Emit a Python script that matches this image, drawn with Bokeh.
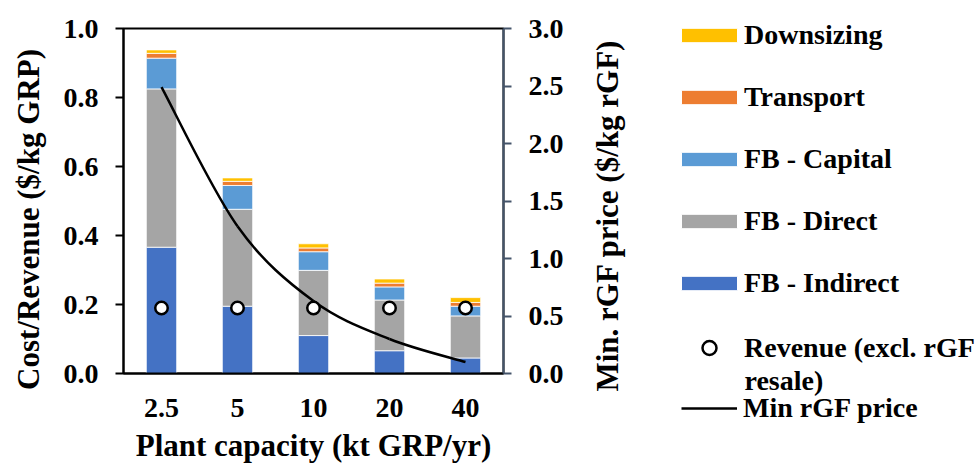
import numpy as np
from bokeh.plotting import figure
from bokeh.layouts import row, column
from bokeh.models import (FactorRange, Range1d, LinearAxis, FixedTicker,
                          NumeralTickFormatter, Legend, LegendItem, Label,
                          ColumnDataSource)
from bokeh.embed import file_html
from bokeh.resources import INLINE

# ---- data ----
categories = ["2.5", "5", "10", "20", "40"]
fb_indirect = [0.366, 0.195, 0.110, 0.066, 0.045]
fb_direct = [0.459, 0.281, 0.189, 0.147, 0.122]
fb_capital = [0.089, 0.069, 0.054, 0.038, 0.028]
transport = [0.014, 0.012, 0.011, 0.011, 0.011]
downsizing = [0.010, 0.010, 0.012, 0.012, 0.014]
revenue = [0.19, 0.19, 0.19, 0.19, 0.19]
min_rgf_price = [2.49, 1.28, 0.63, 0.30, 0.10]
left_ticks = [0.0, 0.2, 0.4, 0.6, 0.8, 1.0]
right_ticks = [0.0, 0.5, 1.0, 1.5, 2.0, 2.5, 3.0]
series_labels = ["FB - Indirect", "FB - Direct", "FB - Capital", "Transport", "Downsizing"]

FONT = "Liberation Serif"
TICK_SIZE = "28px"
TITLE_SIZE = "31px"
LEG_SIZE = "28px"
COLORS = ["#4472C4", "#A5A5A5", "#5B9BD5", "#ED7D31", "#FFC000"]
H = 465
LEFT_W = 50
MAIN_W = 520

src = ColumnDataSource(dict(cat=categories, indirect=fb_indirect, direct=fb_direct,
                            capital=fb_capital, transport=transport,
                            downsizing=downsizing, revenue=revenue,
                            price=min_rgf_price))
stack_names = ["indirect", "direct", "capital", "transport", "downsizing"]


def blank(width):
    f = figure(width=width, height=H, output_backend="svg", toolbar_location=None,
               x_range=FactorRange(*categories), y_range=Range1d(0, 1),
               x_axis_location=None, y_axis_location=None,
               min_border_left=0, min_border_right=0, min_border_top=0,
               min_border_bottom=0)
    f.outline_line_color = None
    f.xgrid.visible = False
    f.ygrid.visible = False
    return f


def title_label(x, y, text):
    return Label(x=x, y=y, x_units="screen", y_units="screen", text=text,
                 angle=np.pi / 2, text_align="center", text_baseline="middle",
                 text_font=FONT, text_font_style="bold",
                 text_font_size=TITLE_SIZE, text_color="black")


# ---- main chart ----
p = figure(x_range=FactorRange(*categories), y_range=Range1d(0, 1),
           width=MAIN_W, height=H, output_backend="svg", toolbar_location=None,
           min_border_left=73, min_border_right=67, min_border_top=28,
           min_border_bottom=89)
p.extra_y_ranges = {"price": Range1d(0, 3)}
p.xgrid.visible = False
p.ygrid.visible = False
p.outline_line_color = "black"
p.outline_line_width = 2

p.vbar_stack(stack_names, x="cat", width=0.4, fill_color=COLORS,
             line_color="white", line_width=0.8, source=src)

# smoothed min price line (bezier segments through the data points)
xs = np.arange(len(categories)) + 0.5
ys = np.array(min_rgf_price)
n = len(xs)
cx0, cy0, cx1, cy1 = [], [], [], []
for i in range(n - 1):
    a = max(i - 1, 0)
    b = min(i + 2, n - 1)
    cx0.append(xs[i] + (xs[i + 1] - xs[a]) / 6)
    cy0.append(ys[i] + (ys[i + 1] - ys[a]) / 6)
    cx1.append(xs[i + 1] - (xs[b] - xs[i]) / 6)
    cy1.append(ys[i + 1] - (ys[b] - ys[i]) / 6)
p.bezier(x0=xs[:-1], y0=ys[:-1], x1=xs[1:], y1=ys[1:],
         cx0=cx0, cy0=cy0, cx1=cx1, cy1=cy1,
         line_color="black", line_width=2.5, y_range_name="price")

p.scatter("cat", "revenue", source=src, size=12.5, fill_color="white",
          line_color="black", line_width=2.5)

yl = p.left[0]
yl.ticker = FixedTicker(ticks=left_ticks)
yl.formatter = NumeralTickFormatter(format="0.0")
yl.major_label_standoff = 17

yr = LinearAxis(y_range_name="price", ticker=FixedTicker(ticks=right_ticks),
                formatter=NumeralTickFormatter(format="0.0"))
yr.major_label_standoff = 17
p.add_layout(yr, "right")

for ax, col in ((yl, "black"), (yr, "#44546A")):
    ax.major_tick_out = 8
    ax.major_tick_in = 0
    ax.minor_tick_out = 0
    ax.minor_tick_in = 0
    ax.axis_line_width = 2
    ax.axis_line_color = col
    ax.major_tick_line_width = 2
    ax.major_tick_line_color = col

xa = p.below[0]
xa.axis_label = "Plant capacity (kt GRP/yr)"
xa.major_tick_in = 0
xa.major_tick_out = 0
xa.axis_line_width = 2
xa.axis_line_color = "black"
xa.major_label_standoff = 25
xa.axis_label_standoff = 8

for ax in (yl, yr, xa):
    ax.major_label_text_font = FONT
    ax.major_label_text_font_style = "bold"
    ax.major_label_text_font_size = TICK_SIZE
    ax.major_label_text_color = "black"
    ax.axis_label_text_font = FONT
    ax.axis_label_text_font_style = "bold"
    ax.axis_label_text_font_size = TITLE_SIZE
    ax.axis_label_text_color = "black"

# ---- left strip: left-axis title ----
ql = blank(LEFT_W)
ql.add_layout(title_label(28, 246, "Cost/Revenue ($/kg GRP)"))

# ---- right strip: right-axis title + legend ----
q = blank(979 - LEFT_W - MAIN_W)
q.add_layout(title_label(37, 250, "Min. rGF price ($/kg rGF)"))

# legend-only renderers (hidden), sharing the chart's data
proxies = [q.vbar(x="cat", top=name, source=src, width=0.4, fill_color=c,
                  line_color="white", visible=False)
           for name, c in zip(stack_names, COLORS)]
rev_proxy = q.scatter(x="cat", y="revenue", source=src, fill_color="white",
                      line_color="black", line_width=2.5, visible=False)
line_proxy = q.line(x="cat", y="price", source=src, line_color="black",
                    line_width=2.5, visible=False)

leg_style = dict(padding=0, label_height=32, label_text_font=FONT,
                 label_text_font_style="bold", label_text_font_size=LEG_SIZE,
                 label_text_color="black", border_line_alpha=0,
                 background_fill_alpha=0, inactive_fill_alpha=0,
                 click_policy="none")

legA = Legend(items=[LegendItem(label=series_labels[i], renderers=[proxies[i]])
                     for i in range(4, -1, -1)],
              location=(104, 166), spacing=30, glyph_width=70, glyph_height=18,
              label_standoff=0, **leg_style)
q.add_layout(legA)

legR = Legend(items=[LegendItem(label="Revenue (excl. rGF", renderers=[rev_proxy])],
              location=(104, 100), spacing=0, glyph_width=70, glyph_height=35,
              label_standoff=0, **leg_style)
q.add_layout(legR)
q.add_layout(Label(x=174, y=85, x_units="screen", y_units="screen", text="resale)",
                   text_align="left", text_baseline="middle", text_font=FONT,
                   text_font_style="bold", text_font_size=LEG_SIZE,
                   text_color="black"))

legB = Legend(items=[LegendItem(label="Min rGF price", renderers=[line_proxy])],
              location=(111, 41), spacing=0, glyph_width=56, glyph_height=18,
              label_standoff=6, **leg_style)
q.add_layout(legB)

open("out.html", "w").write(file_html(row(column(ql), p, column(q)), INLINE))
